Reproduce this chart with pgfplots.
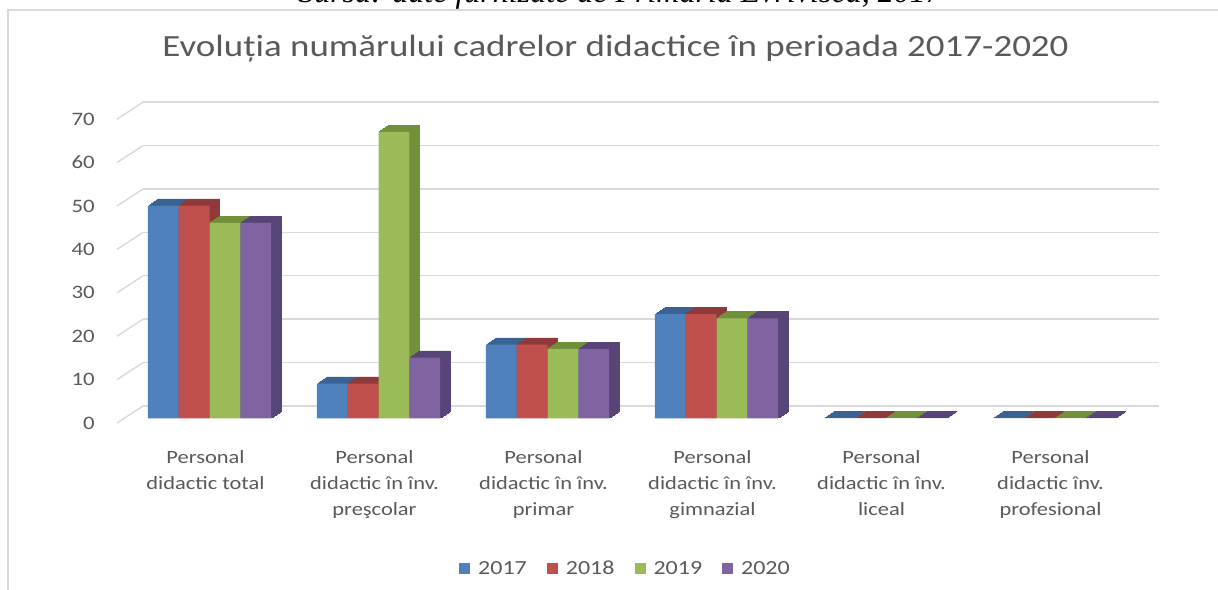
\documentclass[border=0pt]{standalone}
\usepackage{pgfplots}
\pgfplotsset{compat=1.18}
\usepackage{pgfplotstable}
\usepackage{fontspec}
\setmainfont{Carlito}[FakeStretch=1.2]
\newfontfamily\capfont{Liberation Serif}
\definecolor{cA}{HTML}{4F81BD}
\definecolor{cB}{HTML}{C0504D}
\definecolor{cC}{HTML}{9BBB59}
\definecolor{cD}{HTML}{8064A2}
\definecolor{dA}{HTML}{3A6292}
\definecolor{dB}{HTML}{8E3A38}
\definecolor{dC}{HTML}{71903A}
\definecolor{dD}{HTML}{574577}
\definecolor{txtgray}{HTML}{595959}
\definecolor{gridgray}{HTML}{D9D9D9}

\pgfplotsset{sqlegend/.style={legend image code/.code={\fill[##1] (0bp,-5.5bp) rectangle (11bp,5.5bp);}}}

\pgfplotstableread{
x y
0 49
1 8
2 17
3 24
4 0
5 0
}\tA
\pgfplotstableread{
x y
0 49
1 8
2 17
3 24
4 0
5 0
}\tB
\pgfplotstableread{
x y
0 45
1 66
2 16
3 23
4 0
5 0
}\tC
\pgfplotstableread{
x y
0 45
1 14
2 16
3 23
4 0
5 0
}\tD

\newcommand{\depthbars}[4]{%
  \pgfplotsinvokeforeach{10,9,...,1}{%
    \addplot[forget plot, fill=#2, draw=#2, line width=0.6bp, bar shift=#4, xshift=##1bp, yshift={##1*0.67bp}] table[x=x,y=y]{#3};
  }%
  \addplot[fill=#1, draw=none, bar shift=#4, sqlegend] table[x=x,y=y]{#3};
}

\begin{document}
\begin{tikzpicture}[x=1bp,y=1bp]
\useasboundingbox (0,0) rectangle (1218,590);
\begin{scope}
\clip (0,0) rectangle (1218,590);
\node[font=\capfont\itshape\fontsize{32bp}{36bp}\selectfont, anchor=base, text=black] at (620,587) {Sursa: date furnizate de Primăria Evrivisca, 2017};
\draw[gridgray, line width=2bp] (8,-2) -- (8,580) -- (1220,580);

% back wall grid
\begin{axis}[
  at={(143bp,184bp)}, anchor=south west, scale only axis,
  width=1016bp, height=303.8bp,
  xmin=-0.5, xmax=5.5, ymin=0, ymax=70, clip=false,
  axis line style={draw=none}, major tick length=0pt,
  xtick=\empty, ytick={0,10,...,70}, yticklabels={},
  ymajorgrids, grid style={draw=gridgray, line width=1.4bp},
]
\pgfplotsinvokeforeach{0,10,...,70}{%
  \draw[gridgray, line width=1.4bp] ([xshift=-26bp,yshift=-17bp]axis cs:-0.5,#1) -- (axis cs:-0.5,#1);
}
\end{axis}

% bars
\begin{axis}[
  at={(125bp,171.7bp)}, anchor=south west, scale only axis,
  width=1014bp, height=303.8bp,
  xmin=-0.5, xmax=5.5, ymin=0, ymax=70, clip=false,
  ybar=0pt, bar width=30.8bp,
  axis line style={draw=none}, major tick length=0pt,
  xtick={0,...,5},
  xticklabels={{Personal\\didactic total},{Personal\\didactic în înv.\\preşcolar},{Personal\\didactic în înv.\\primar},{Personal\\didactic în înv.\\gimnazial},{Personal\\didactic în înv.\\liceal},{Personal\\didactic înv.\\profesional}},
  xticklabel style={align=center, anchor=north, inner sep=0pt, yshift=-31.7bp, xshift=-4bp, font=\fontsize{18.7bp}{26bp}\selectfont, text=txtgray},
  ytick={0,10,...,70},
  yticklabel style={anchor=east, inner sep=0pt, xshift=-30bp, yshift=-4.7bp, font=\fontsize{19bp}{22bp}\selectfont, text=txtgray},
  /pgf/number format/assume math mode=true,
  legend columns=4,
  legend style={at={(0.4936,-0.4928)}, anchor=center, draw=none, fill=none,
    font=\fontsize{20bp}{22bp}\selectfont, text=txtgray,
    nodes={text depth=0pt},
    /tikz/every odd column/.append style={column sep=6bp},
    /tikz/every even column/.append style={column sep=18bp}},
]
\depthbars{cA}{dA}{\tA}{-46.2bp}
\depthbars{cB}{dB}{\tB}{-15.4bp}
\depthbars{cC}{dC}{\tC}{15.4bp}
\depthbars{cD}{dD}{\tD}{46.2bp}
\legend{2017,2018,2019,2020}
\end{axis}

\node[font=\fontsize{30.8bp}{36bp}\selectfont, anchor=base, text=txtgray] at (615.5,533.3) {Evoluția numărului cadrelor didactice în perioada 2017-2020};
\end{scope}
\end{tikzpicture}
\end{document}
